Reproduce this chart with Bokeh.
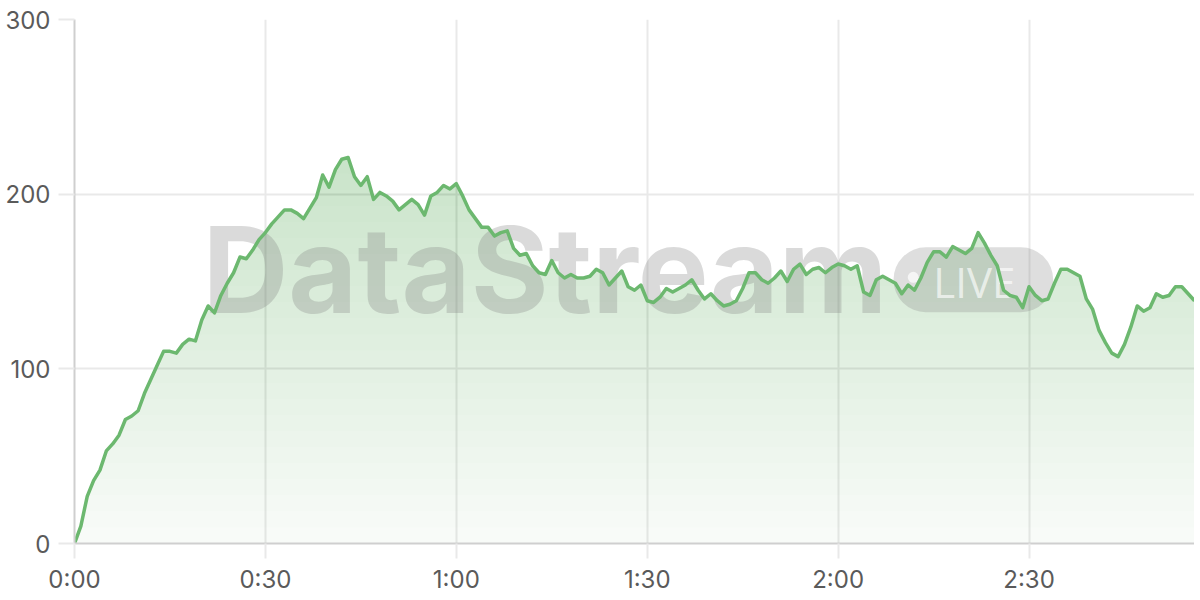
import numpy as np
from bokeh.plotting import figure
from bokeh.models import FixedTicker, Range1d
from bokeh.core.properties import value
from bokeh.embed import file_html
from bokeh.resources import INLINE

# ---- data (seconds since start, values) ----
seconds = list(range(177))
values = [
    0, 10, 27, 36, 42, 53, 57, 62, 71, 73,
    76, 86, 94, 102, 110, 110, 109, 114, 117, 116,
    128, 136, 132, 142, 149, 155, 164, 163, 168, 174,
    178, 183, 187, 191, 191, 189, 186, 192, 198, 211,
    204, 214, 220, 221, 210, 205, 210, 197, 201, 199,
    196, 191, 194, 197, 194, 188, 199, 201, 205, 203,
    206, 199, 191, 186, 181, 181, 176, 178, 179, 169,
    165, 166, 159, 155, 154, 162, 155, 152, 154, 152,
    152, 153, 157, 155, 148, 152, 156, 147, 145, 148,
    139, 138, 141, 146, 144, 146, 148, 151, 145, 140,
    143, 139, 136, 137, 139, 146, 155, 155, 151, 149,
    152, 156, 150, 157, 160, 154, 157, 158, 155, 158,
    160, 159, 157, 159, 144, 142, 151, 153, 151, 149,
    143, 148, 145, 152, 161, 167, 167, 164, 170, 168,
    166, 169, 178, 172, 165, 159, 145, 142, 141, 135,
    147, 142, 139, 140, 149, 157, 157, 155, 153, 140,
    134, 122, 115, 109, 107, 114, 124, 136, 133, 135,
    143, 141, 142, 147, 147, 143, 139,
]
x_tick_values = [0, 30, 60, 90, 120, 150]
x_tick_labels = ["0:00", "0:30", "1:00", "1:30", "2:00", "2:30"]
y_tick_values = [0, 100, 200, 300]

GREEN = "#6cb86f"
LABEL_COLOR = "#5a5a5a"
GRID_COLOR = "#e9e9e9"
AXIS_COLOR = "#cfcfcf"

p = figure(
    width=1194, height=596,
    x_range=Range1d(0, seconds[-1]), y_range=Range1d(0, 300),
    output_backend="svg", toolbar_location=None,
    min_border_left=74, min_border_right=0,
    min_border_top=19, min_border_bottom=53,
)
p.outline_line_color = None
p.background_fill_color = "white"
p.border_fill_color = "white"

# ---- gradient area under the line ----
xs = np.array(seconds, dtype=float)
ys = np.array(values, dtype=float)
vmax = ys.max()
p.varea(x=xs, y1=0, y2=ys, fill_color=GREEN, fill_alpha=0.05)
n_bands = 24
band_alpha = 1 - (0.73 / 0.95) ** (1.0 / (n_bands - 1))
for k in range(1, n_bands):
    lvl = vmax * k / n_bands
    p.varea(x=xs, y1=np.minimum(ys, lvl), y2=ys,
            fill_color=GREEN, fill_alpha=band_alpha)

# ---- watermark (above the fill, below the line) ----
p.quad(left=[128.7], right=[153.8], top=[169.6], bottom=[132.4],
       border_radius=33, fill_color="#808080", fill_alpha=0.26, line_color=None)
p.text(x=[20.1], y=[156.8], text=["DataStream"],
       text_font=value("Inter"), text_font_style=value("bold"),
       text_font_size=value("119px"), text_color="#808080", text_alpha=0.29,
       text_align=value("left"), text_baseline=value("alphabetic"))
p.scatter(x=[131.8], y=[152.4], size=11, fill_color="white", fill_alpha=0.7,
          line_color=None)
p.text(x=[134.95], y=[150.1], text=["LIVE"],
       text_font=value("Open Sans"), text_font_size=value("42px"),
       text_color="white", text_alpha=0.65,
       text_align=value("left"), text_baseline=value("alphabetic"))

p.line(xs, ys, line_color=GREEN, line_width=3.5, line_join="round")

# ---- axes & grid ----
for ax in (p.xaxis[0], p.yaxis[0]):
    ax.axis_line_color = AXIS_COLOR
    ax.axis_line_width = 2
    ax.major_tick_line_color = GRID_COLOR
    ax.major_tick_line_width = 2
    ax.major_tick_in = 0
    ax.minor_tick_line_color = None
    ax.major_label_text_font = "Inter"
    ax.major_label_text_font_size = "24px"
    ax.major_label_text_color = LABEL_COLOR

p.xaxis.ticker = FixedTicker(ticks=x_tick_values)
p.xaxis.major_label_overrides = {v: l for v, l in zip(x_tick_values, x_tick_labels)}
p.xaxis.major_tick_out = 15
p.xaxis.major_label_standoff = 6

p.yaxis.ticker = FixedTicker(ticks=y_tick_values)
p.yaxis.major_tick_out = 16
p.yaxis.major_label_standoff = 8

p.xgrid.ticker = FixedTicker(ticks=x_tick_values)
p.ygrid.ticker = FixedTicker(ticks=y_tick_values)
p.grid.grid_line_color = GRID_COLOR
p.grid.grid_line_width = 2

open("out.html", "w").write(file_html(p, INLINE))
